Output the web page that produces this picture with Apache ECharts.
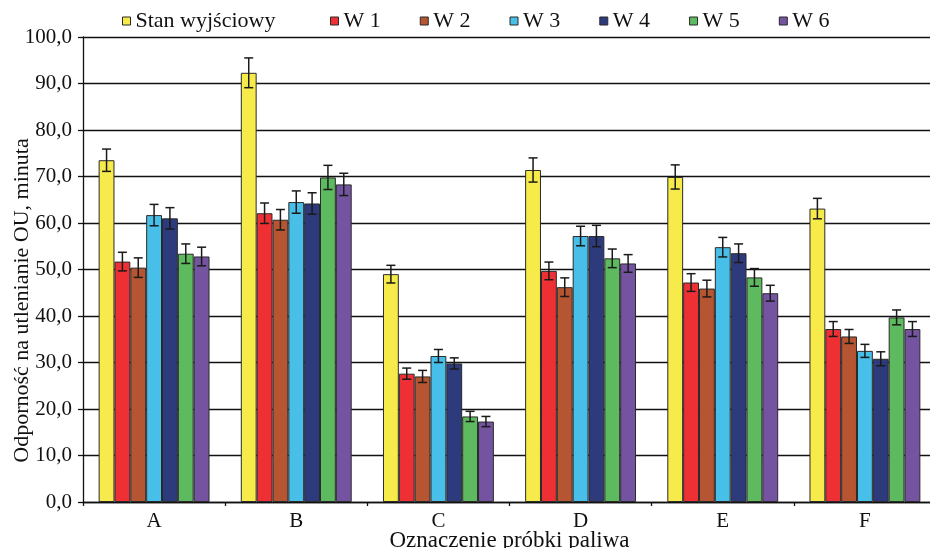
<!DOCTYPE html>
<html><head><meta charset="utf-8">
<script src="https://cdn.jsdelivr.net/npm/echarts@6/dist/echarts.min.js"></script>
<style>html,body{margin:0;padding:0;background:#fff}#c{width:930px;height:548px}</style>
</head><body><div id="c"></div>
<script>
const categories = ['A','B','C','D','E','F'];
const seriesNames = ['Stan wyjściowy','W 1','W 2','W 3','W 4','W 5','W 6'];
const stan = [73.5, 92.3, 49.0, 71.4, 69.9, 63.1];
const w1 = [51.7, 62.1, 27.6, 49.7, 47.2, 37.2];
const w2 = [50.4, 60.7, 27.0, 46.2, 45.9, 35.6];
const w3 = [61.7, 64.5, 31.4, 57.2, 54.8, 32.5];
const w4 = [61.0, 64.2, 29.8, 57.2, 53.5, 30.8];
const w5 = [53.4, 69.8, 18.4, 52.4, 48.3, 39.7];
const w6 = [52.8, 68.3, 17.3, 51.3, 44.9, 37.2];
const errStan = [2.4, 3.2, 1.9, 2.6, 2.6, 2.2];
const errW1 = [2.0, 2.2, 1.2, 1.9, 1.9, 1.6];
const errW2 = [2.1, 2.2, 1.3, 2.0, 1.8, 1.5];
const errW3 = [2.3, 2.4, 1.4, 2.1, 2.1, 1.4];
const errW4 = [2.3, 2.3, 1.2, 2.3, 2.0, 1.5];
const errW5 = [2.1, 2.6, 1.1, 2.0, 1.9, 1.6];
const errW6 = [2.0, 2.4, 1.1, 1.9, 1.7, 1.6];

const values = [stan, w1, w2, w3, w4, w5, w6];
const errors = [errStan, errW1, errW2, errW3, errW4, errW5, errW6];
const colors = ['#F6EB4A','#EE3035','#B55532','#48BFE8','#2D3B7C','#5DBA5E','#7454A1'];
const FONT = 'Liberation Serif';
const CAT_GAP = 0.22;
const N = values.length;

const series = [];
values.forEach((vals, k) => {
  series.push({
    name: seriesNames[k], type: 'bar', data: vals,
    barGap: '0%', barCategoryGap: (CAT_GAP*100)+'%',
    itemStyle: {color: colors[k], borderColor: '#2a2a2a', borderWidth: 1},
    z: 2
  });
});
values.forEach((vals, k) => {
  series.push({
    name: seriesNames[k] + ' err', type: 'custom', z: 5,
    data: vals.map((v, i) => [i, v - errors[k][i], v + errors[k][i]]),
    renderItem: function (params, api) {
      const x = api.value(0);
      const catW = api.size([1, 0])[0];
      const bw = catW * (1 - CAT_GAP) / N;
      const off = (k - (N - 1) / 2) * bw;
      const pHi = api.coord([x, api.value(2)]);
      const pLo = api.coord([x, api.value(1)]);
      const cx = pHi[0] + off;
      const h = 4.5;
      const st = {stroke: '#1a1a1a', lineWidth: 1.5};
      return {type: 'group', children: [
        {type: 'line', shape: {x1: cx, y1: pHi[1], x2: cx, y2: pLo[1]}, style: st},
        {type: 'line', shape: {x1: cx - h, y1: pHi[1], x2: cx + h, y2: pHi[1]}, style: st},
        {type: 'line', shape: {x1: cx - h, y1: pLo[1], x2: cx + h, y2: pLo[1]}, style: st}
      ]};
    }
  });
});

const legendCommon = {
  top: 5, itemWidth: 8, itemHeight: 8, icon: 'rect', selectedMode: false,
  itemStyle: {borderColor: '#2a2a2a', borderWidth: 1},
  textStyle: {fontFamily: FONT, fontSize: 22, color: '#111'}
};

const chart = echarts.init(document.getElementById('c'), null, {renderer: 'canvas'});
chart.setOption({
  animation: false,
  backgroundColor: '#fff',
  textStyle: {fontFamily: FONT, color: '#111'},
  legend: [
    Object.assign({data: [seriesNames[0]], left: 117}, legendCommon),
    Object.assign({data: seriesNames.slice(1), left: 325, itemGap: 39}, legendCommon)
  ],
  grid: {left: 83, top: 37, width: 853, height: 465, outerBoundsMode: 'none', containLabel: false},
  xAxis: {
    type: 'category', data: categories,
    name: 'Oznaczenie próbki paliwa', nameLocation: 'middle', nameGap: 27, nameMoveOverlap: false,
    nameTextStyle: {fontFamily: FONT, fontSize: 23, color: '#111'},
    axisLine: {lineStyle: {color: '#111', width: 1.3}},
    axisTick: {show: true, length: 4, lineStyle: {color: '#111', width: 1.3}},
    axisLabel: {fontFamily: FONT, fontSize: 21, color: '#111', margin: 9}
  },
  yAxis: {
    type: 'value', min: 0, max: 100, interval: 10,
    name: 'Odporność na utlenianie OU, minuta', nameLocation: 'middle', nameGap: 50, nameMoveOverlap: false,
    nameTextStyle: {fontFamily: FONT, fontSize: 22, color: '#111', padding: [0, 62, 0, 0]},
    axisLine: {show: true, lineStyle: {color: '#111', width: 1.3}},
    axisTick: {show: true, length: 5, lineStyle: {color: '#111', width: 1.3}},
    axisLabel: {fontFamily: FONT, fontSize: 21, color: '#111', margin: 11,
      formatter: v => v.toFixed(1).replace('.', ',')},
    splitLine: {show: true, lineStyle: {color: '#111', width: 1.3}}
  },
  series: series
});
</script></body></html>
